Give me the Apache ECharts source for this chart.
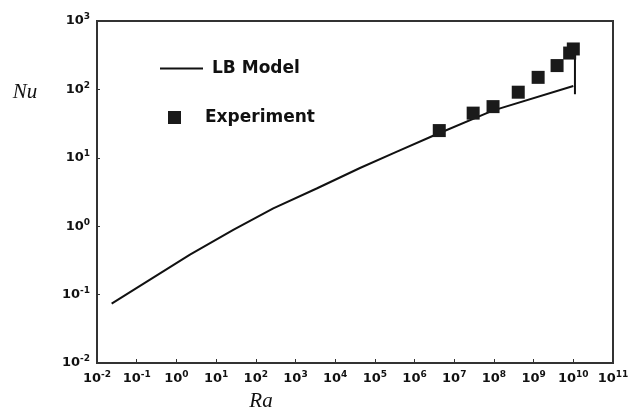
<!DOCTYPE html>
<html><head><meta charset="utf-8">
<script src="https://cdn.jsdelivr.net/npm/echarts@6/dist/echarts.min.js"></script>
<style>html,body{margin:0;padding:0;background:#fff}#c{width:636px;height:417px}</style>
</head><body><div id="c"></div>
<script>
// LB Model curve (Ra, Nu)
const modelRa = [0.0234, 2.2, 27.1, 276, 3420, 4.22e4, 3.16e5, 2.95e6, 9.3e7, 1.0e10];
const modelNu = [0.074, 0.384, 0.883, 1.82, 3.56, 7.10, 11.9, 21.0, 49, 112];
// small vertical stroke at the end of the model curve
const endRa = [1.1e10, 1.1e10];
const endNu = [340, 85];
// Experiment points
const expRa = [4.2e6, 3.0e7, 9.5e7, 4.1e8, 1.3e9, 3.9e9, 8.1e9, 1.0e10];
const expNu = [25, 45, 56, 91, 150, 223, 340, 390];

const zip = (a, b) => a.map((v, i) => [v, b[i]]);
const supFmt = v => '{b|10}{s|' + Math.round(Math.log10(v)) + '}';
const rich = {
  b: {fontFamily: 'DejaVu Sans', fontWeight: 'bold', fontSize: 13, color: '#111'},
  s: {fontFamily: 'DejaVu Sans', fontWeight: 'bold', fontSize: 9, color: '#111', padding: [0, 0, 8, 0]}
};

const chart = echarts.init(document.getElementById('c'), null, {renderer: 'canvas'});
chart.setOption({
  animation: false,
  backgroundColor: '#fff',
  grid: {left: 97, right: 23, top: 21, bottom: 51, show: true, borderColor: '#333', borderWidth: 2},
  legend: [
    {data: [{name: 'LB Model', icon: 'rect'}], left: 155, top: 55, itemWidth: 43, itemHeight: 2,
     textStyle: {fontFamily: 'DejaVu Sans', fontWeight: 'bold', fontSize: 17, color: '#111', padding: [0, 0, 0, 4]}},
    {data: [{name: 'Experiment', icon: 'rect'}], left: 163, top: 104, itemWidth: 13, itemHeight: 13,
     textStyle: {fontFamily: 'DejaVu Sans', fontWeight: 'bold', fontSize: 17, color: '#111', padding: [0, 0, 0, 19]}}
  ],
  xAxis: {
    type: 'log', logBase: 10, min: 0.01, max: 1e11, interval: 1,
    name: 'Ra', nameLocation: 'middle', nameGap: 28,
    nameTextStyle: {fontFamily: 'Liberation Serif', fontStyle: 'italic', fontSize: 21, color: '#111', padding: [0, 188, 0, 0]},
    axisLine: {lineStyle: {color: '#333', width: 2}},
    axisTick: {inside: true, length: 4, lineStyle: {color: '#333'}},
    axisLabel: {formatter: supFmt, rich: rich, margin: 7},
    splitLine: {show: false}
  },
  yAxis: {
    type: 'log', logBase: 10, min: 0.01, max: 1000, interval: 1,
    name: 'Nu', nameLocation: 'end', nameRotate: 0, nameGap: -71,
    nameTextStyle: {fontFamily: 'Liberation Serif', fontStyle: 'italic', fontSize: 21, color: '#111',
      align: 'center', verticalAlign: 'middle', padding: [0, 144, 0, 0]},
    axisLine: {lineStyle: {color: '#333', width: 2}},
    axisTick: {inside: true, length: 3, lineStyle: {color: '#333'}},
    axisLabel: {formatter: supFmt, rich: rich, margin: 7},
    splitLine: {show: false}
  },
  series: [
    {name: 'LB Model', type: 'line', data: zip(modelRa, modelNu), showSymbol: false,
     lineStyle: {color: '#111', width: 2}, itemStyle: {color: '#111'}, z: 2},
    {name: 'LB Model', type: 'line', data: zip(endRa, endNu), showSymbol: false,
     lineStyle: {color: '#111', width: 2}, itemStyle: {color: '#111'}, z: 2},
    {name: 'Experiment', type: 'scatter', data: zip(expRa, expNu), symbol: 'rect', symbolSize: 13,
     itemStyle: {color: '#1a1a1a', opacity: 1}, z: 3}
  ]
});
</script></body></html>
